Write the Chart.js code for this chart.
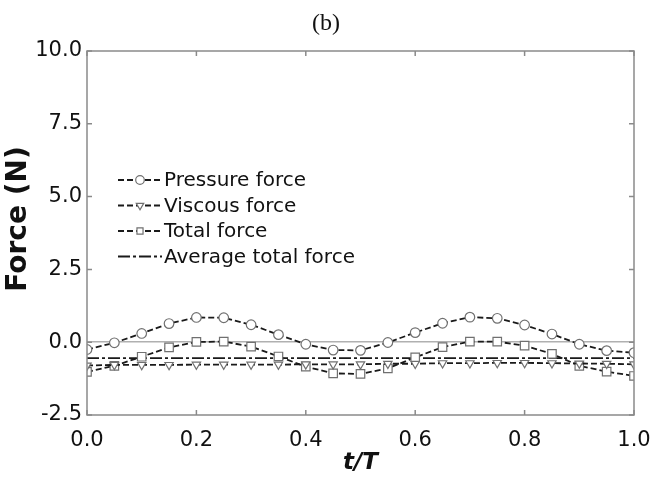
<!DOCTYPE html>
<html>
<head>
<meta charset="utf-8">
<script src="https://cdn.jsdelivr.net/npm/chart.js@4/dist/chart.umd.min.js"></script>
<style>
  html, body { margin: 0; padding: 0; background: #fff; }
  #wrap { width: 652px; height: 481px; position: relative; }
</style>
</head>
<body>
<div id="wrap"><canvas id="forceChart"></canvas></div>
<script>
// Force over one flapping period (t/T)
const tT = [0, 0.05, 0.1, 0.15, 0.2, 0.25, 0.3, 0.35, 0.4, 0.45, 0.5,
            0.55, 0.6, 0.65, 0.7, 0.75, 0.8, 0.85, 0.9, 0.95, 1.0];
const pressureForce = [-0.25, -0.02, 0.3, 0.64, 0.85, 0.84, 0.6, 0.26, -0.07, -0.27, -0.28,
                       -0.01, 0.33, 0.65, 0.86, 0.82, 0.59, 0.28, -0.07, -0.29, -0.36];
const viscousForce = [-0.8, -0.78, -0.78, -0.78, -0.77, -0.77, -0.77, -0.77, -0.76, -0.76, -0.76,
                      -0.74, -0.74, -0.72, -0.72, -0.71, -0.71, -0.72, -0.73, -0.74, -0.76];
const totalForce = [-1.02, -0.81, -0.5, -0.18, 0.01, 0.02, -0.15, -0.49, -0.84, -1.07, -1.09,
                    -0.9, -0.52, -0.17, 0.02, 0.02, -0.12, -0.4, -0.81, -1.01, -1.16];
const avgT = [0, 1];
const averageTotal = [-0.55, -0.55];
const seriesNames = ['Pressure force', 'Viscous force', 'Total force', 'Average total force'];
const xTicks = [0, 0.2, 0.4, 0.6, 0.8, 1.0];
const yTicks = [-2.5, 0, 2.5, 5, 7.5, 10];

const FONT = 'DejaVu Sans, Arial, sans-serif';
const LINE = '#1a1a1a';
const MARK = '#707070';
const FRAME = '#8a8a8a';

const pts = (xs, ys) => xs.map((x, i) => ({ x, y: ys[i] }));

function series(label, data, style, extra) {
  return Object.assign({
    label, data,
    borderColor: LINE, borderWidth: 1.8, borderDash: [6, 3],
    pointStyle: style, pointRadius: 4.8, pointBorderWidth: 1.2,
    pointBorderColor: MARK, pointBackgroundColor: '#fff',
    tension: 0, fill: false
  }, extra || {});
}

// frame, inward ticks, y title and the in-plot legend
const frameAndLegend = {
  id: 'frameAndLegend',
  afterDatasetsDraw(chart) {
    const { ctx, chartArea: a, scales } = chart;
    const tl = 5;
    ctx.save();
    ctx.strokeStyle = FRAME;
    ctx.lineWidth = 1.5;
    ctx.strokeRect(a.left, a.top, a.right - a.left, a.bottom - a.top);
    ctx.beginPath();
    scales.x.ticks.forEach(t => {
      const px = scales.x.getPixelForValue(t.value);
      ctx.moveTo(px, a.bottom); ctx.lineTo(px, a.bottom - tl);
      ctx.moveTo(px, a.top); ctx.lineTo(px, a.top + tl);
    });
    scales.y.ticks.forEach(t => {
      const py = scales.y.getPixelForValue(t.value);
      ctx.moveTo(a.left, py); ctx.lineTo(a.left + tl, py);
      ctx.moveTo(a.right, py); ctx.lineTo(a.right - tl, py);
    });
    ctx.stroke();

    // y axis title
    ctx.fillStyle = '#111';
    ctx.font = 'bold 28px ' + FONT;
    ctx.textAlign = 'center';
    ctx.textBaseline = 'middle';
    ctx.translate(19, 219);
    ctx.rotate(-Math.PI / 2);
    ctx.fillText('Force (N)', 0, 0);
    ctx.restore();

    // legend
    ctx.save();
    const x0 = a.left + 31, x1 = x0 + 44, y0 = 180, dy = 25.5;
    chart.data.datasets.forEach((ds, i) => {
      const y = y0 + i * dy;
      ctx.strokeStyle = ds.borderColor;
      ctx.lineWidth = ds.borderWidth;
      ctx.setLineDash(ds.borderDash || []);
      ctx.beginPath();
      ctx.moveTo(x0, y); ctx.lineTo(x1, y);
      ctx.stroke();
      ctx.setLineDash([]);
      if (ds.pointRadius > 0) {
        ctx.fillStyle = '#fff';
        ctx.strokeStyle = MARK;
        ctx.lineWidth = 1.2;
        Chart.helpers.drawPoint(ctx, {
          pointStyle: ds.pointStyle, radius: 4.3, rotation: ds.pointRotation || 0, borderWidth: 1.2
        }, (x0 + x1) / 2, y);
      }
      ctx.fillStyle = '#111';
      ctx.font = '20px ' + FONT;
      ctx.textAlign = 'left';
      ctx.textBaseline = 'middle';
      ctx.fillText(ds.label, x1 + 2, y + 1);
    });
    ctx.restore();
  }
};

new Chart(document.getElementById('forceChart'), {
  type: 'line',
  data: {
    datasets: [
      series(seriesNames[0], pts(tT, pressureForce), 'circle'),
      series(seriesNames[1], pts(tT, viscousForce), 'triangle', { pointRotation: 180 }),
      series(seriesNames[2], pts(tT, totalForce), 'rect', { pointRadius: 6 }),
      series(seriesNames[3], pts(avgT, averageTotal), 'line',
             { pointRadius: 0, borderDash: [12, 3, 3, 3] })
    ]
  },
  options: {
    responsive: true, maintainAspectRatio: false,
    animation: false,
    layout: { padding: 0 },
    plugins: {
      legend: { display: false },
      tooltip: { enabled: false },
      title: {
        display: true, text: '(b)', color: '#111',
        font: { family: 'Liberation Serif, Times New Roman, serif', size: 24, weight: 'normal' },
        padding: { top: 9, bottom: 13.2 }
      }
    },
    scales: {
      x: {
        type: 'linear', min: 0, max: 1,
        afterFit: s => { s.height = 66; s.paddingLeft = 0; s.paddingRight = 18; },
        afterBuildTicks: s => { s.ticks = xTicks.map(v => ({ value: v })); },
        grid: { display: false, drawTicks: false },
        border: { display: false },
        ticks: { color: '#111', padding: 13, font: { family: FONT, size: 21 }, maxRotation: 0,
                 callback: v => v.toFixed(1) },
        title: { display: true, text: 't/T', color: '#111', padding: { top: 0, bottom: 4 },
                 font: { family: FONT, size: 23, weight: 'bold', style: 'italic' } }
      },
      y: {
        min: -2.5, max: 10,
        afterFit: s => { s.width = 87; },
        afterBuildTicks: s => { s.ticks = yTicks.map(v => ({ value: v })); },
        grid: { drawTicks: false, lineWidth: 1.5,
                color: c => (c.tick && c.tick.value === 0) ? '#b0b0b0' : 'rgba(0,0,0,0)' },
        border: { display: false },
        ticks: { color: '#111', padding: 5, font: { family: FONT, size: 21 },
                 callback: v => v.toFixed(1) }
      }
    }
  },
  plugins: [frameAndLegend]
});
</script>
</body>
</html>
